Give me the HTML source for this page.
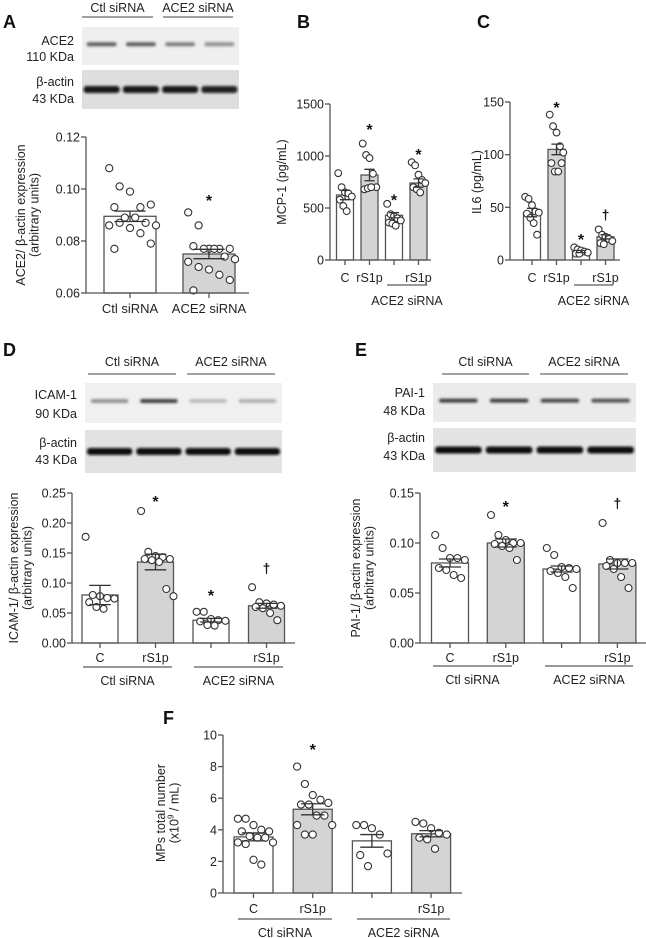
<!DOCTYPE html>
<html><head><meta charset="utf-8"><style>
html,body{margin:0;padding:0;background:#fff;width:646px;height:938px;overflow:hidden}
svg{display:block;font-family:"Liberation Sans",Arial,sans-serif}
</style></head><body>
<svg id="fig" width="646" height="938" viewBox="0 0 646 938" xmlns="http://www.w3.org/2000/svg">
<defs><filter id="bl" x="-20%" y="-100%" width="140%" height="300%"><feGaussianBlur stdDeviation="1.2"/></filter></defs>
<g font-weight="bold" font-size="18" fill="#111">
<text x="3" y="28">A</text>
<text x="297" y="28">B</text>
<text x="477" y="28">C</text>
<text x="3" y="356">D</text>
<text x="355" y="356">E</text>
<text x="163" y="724">F</text>
</g>
<g id="blots"></g>
<g id="charts"></g>
</svg>
<script>
// ---- Data ----
const catsA=["Ctl siRNA","ACE2 siRNA"];
const meansA=[0.0895,0.075];
const semA=[0.002,0.0018];
const ptsA=[[0.108,0.101,0.099,0.093,0.094,0.093,0.089,0.089,0.087,0.086,0.086,0.087,0.085,0.083,0.079,0.077],
[0.091,0.086,0.077,0.077,0.077,0.078,0.077,0.077,0.074,0.073,0.072,0.070,0.069,0.067,0.065,0.061]];
const marksA=["","*"];const markValA=[0,0.097];
const ticksA=[0.06,0.08,0.10,0.12];const tickLabA=["0.06","0.08","0.10","0.12"];

const catsB=["C","rS1p","","rS1p"];
const meansB=[625,817,430,740];
const semB=[45,55,25,40];
const ptsB=[[835,700,650,640,610,580,520,470],[1120,1010,980,830,700,680,690,700],[540,440,420,400,380,360,350,330],[940,910,820,770,740,700,680,650]];
const marksB=["","*","*","*"];const markValB=[0,1290,610,1050];
const ticksB=[0,500,1000,1500];const tickLabB=["0","500","1000","1500"];

const catsC=["C","rS1p","","rS1p"];
const meansC=[45,105,8,22];
const semC=[4,5,1,2];
const ptsC=[[60,58,52,46,45,44,40,35,24],[138,127,121,108,102,92,84,84,92],[12,10,9,8,7,6,6],[29,24,22,20,18,16,15]];
const marksC=["","*","*","†"];const markValC=[0,148,23,43];
const ticksC=[0,50,100,150];const tickLabC=["0","50","100","150"];

const catsD=["C","rS1p","","rS1p"];
const meansD=[0.08,0.135,0.038,0.062];
const semD=[0.016,0.013,0.003,0.004];
const ptsD=[[0.177,0.080,0.078,0.075,0.074,0.068,0.060,0.057],[0.22,0.152,0.145,0.143,0.14,0.14,0.138,0.135,0.09,0.078],[0.052,0.052,0.04,0.038,0.037,0.036,0.03,0.029],[0.093,0.068,0.066,0.064,0.062,0.06,0.058,0.05,0.038]];
const marksD=["","*","*","†"];const markValD=[0,0.242,0.085,0.125];
const ticksD=[0,0.05,0.10,0.15,0.20,0.25];const tickLabD=["0.00","0.05","0.10","0.15","0.20","0.25"];

const catsE=["C","rS1p","","rS1p"];
const meansE=[0.08,0.1,0.074,0.079];
const semE=[0.004,0.004,0.003,0.005];
const ptsE=[[0.108,0.095,0.085,0.085,0.083,0.075,0.073,0.068,0.065],[0.128,0.108,0.103,0.1,0.1,0.099,0.097,0.095,0.083],[0.095,0.088,0.076,0.075,0.074,0.072,0.07,0.066,0.055],[0.12,0.083,0.08,0.08,0.08,0.077,0.074,0.066,0.055]];
const marksE=["","*","","†"];const markValE=[0,0.14,0,0.14];
const ticksE=[0,0.05,0.10,0.15];const tickLabE=["0.00","0.05","0.10","0.15"];

const catsF=["C","rS1p","","rS1p"];
const meansF=[3.55,5.3,3.3,3.75];
const semF=[0.25,0.35,0.4,0.2];
const ptsF=[[4.7,4.7,4.3,4.0,3.9,3.9,3.6,3.5,3.5,3.2,3.2,3.1,2.1,1.8],[8.0,6.9,6.2,5.9,5.7,5.6,5.6,4.9,4.9,4.3,4.3,3.7,3.7],[4.3,4.3,4.1,3.7,2.5,2.4,1.7],[4.5,4.4,4.1,3.8,3.7,3.5,3.4,2.8]];
const marksF=["","*","",""];const markValF=[0,9.3,0,0];
const ticksF=[0,2,4,6,8,10];const tickLabF=["0","2","4","6","8","10"];

const NS="http://www.w3.org/2000/svg";
function el(tag,attrs,parent,txt){const e=document.createElementNS(NS,tag);for(const k in attrs)e.setAttribute(k,attrs[k]);if(txt!==undefined)e.textContent=txt;parent.appendChild(e);return e;}
const charts=document.getElementById('charts');
const blots=document.getElementById('blots');
const AX="#555";

function chart(name,cfg,cats,means,sems,pts,marks,markVals,ticks,tickLabs){
  const g=el('g',{},charts);
  
  
  const y=v=>cfg.y0+(v-cfg.vmin)/(cfg.vmax-cfg.vmin)*(cfg.y1-cfg.y0);
  const x=i=>cfg.c0+i*cfg.step;
  const fills=cfg.fills;
  means.forEach((m,i)=>{
    const r=el('rect',{x:x(i)-cfg.w/2,y:y(m),width:cfg.w,height:y(cfg.vmin)-y(m),fill:fills[i],stroke:AX,'stroke-width':1.3},g);
    
    
  });
  pts.forEach((arr,i)=>{
    arr.forEach((v,j)=>{
      const off=((j%5)-2)/2*(cfg.w*0.4)+((Math.floor(j/5)%2)?cfg.w*0.1:0);
      const c=el('circle',{cx:x(i)+off,cy:y(v),r:cfg.r,fill:'#fff',stroke:'#333','stroke-width':1.1},g);
      
      
    });
  });
  means.forEach((m,i)=>{
    const eh=cfg.w*0.3;
    el('path',{d:`M${x(i)} ${y(m-sems[i])}V${y(m+sems[i])}M${x(i)-eh} ${y(m+sems[i])}H${x(i)+eh}M${x(i)-eh} ${y(m-sems[i])}H${x(i)+eh}`,stroke:'#333','stroke-width':1.3,fill:'none'},g);
  });
  marks.forEach((s,i)=>{ if(!s)return;
    const t=el('text',{x:x(i),y:y(markVals[i])+(s=='*'?9:5),'text-anchor':'middle','font-size':s=='*'?16:14,'font-weight':'bold',fill:'#111'},g,s);
    
    
  });
  el('path',{d:`M${cfg.ax} ${y(cfg.vmax)}V${y(cfg.vmin)}H${cfg.xEnd}`,stroke:AX,'stroke-width':1.3,fill:'none'},g);
  ticks.forEach((t,i)=>{
    el('path',{d:`M${cfg.ax-5} ${y(t)}H${cfg.ax}`,stroke:AX,'stroke-width':1.3},g);
    const tl=el('text',{x:cfg.ax-6,y:y(t)+4.5,'text-anchor':'end','font-size':12.5,fill:'#222'},g,tickLabs[i]);
    
    
  });
  cats.forEach((c,i)=>{
    el('path',{d:`M${x(i)} ${y(cfg.vmin)}V${y(cfg.vmin)+5}`,stroke:AX,'stroke-width':1.3},g);
    if(c){const t=el('text',{x:x(i),y:y(cfg.vmin)+cfg.labDy,'text-anchor':'middle','font-size':cfg.labFs,fill:'#222'},g,c);
    
    }
  });
  const tg=el('text',{transform:`translate(${cfg.tx},${cfg.ty}) rotate(-90)`,'text-anchor':'middle','font-size':12.5,fill:'#222'},g);
  
  
  cfg.title.forEach((ln,k)=>{const ts=el('tspan',{x:0,dy:k?13.5:0},tg);ts.innerHTML=ln;});
  return {x,y};
}
function groupLabel(x1,x2,yl,yt,txt){
  el('path',{d:`M${x1} ${yl}H${x2}`,stroke:'#333','stroke-width':1},charts);
  const t=el('text',{x:(x1+x2)/2,y:yt,'text-anchor':'middle','font-size':12.5,fill:'#222'},charts,txt);
  
  
}
const W='#fff',G='#d4d4d4';
chart('chart-a-ace2',{ax:86,y0:293,y1:137,vmin:0.06,vmax:0.12,c0:130,step:79,w:52,r:3.6,xEnd:249,fills:[W,G],labDy:20,labFs:13,tx:25,ty:215,title:["ACE2/ β-actin expression","(arbitrary units)"]},catsA,meansA,semA,ptsA,marksA,markValA,ticksA,tickLabA);
chart('chart-b-mcp1',{ax:330,y0:260,y1:104,vmin:0,vmax:1500,c0:345,step:24.5,w:17,r:3.4,xEnd:431,fills:[W,G,W,G],labDy:22,labFs:12.5,tx:286,ty:182,title:["MCP-1 (pg/mL)"]},catsB,meansB,semB,ptsB,marksB,markValB,ticksB,tickLabB);
groupLabel(387,427,285,305,"ACE2 siRNA");
chart('chart-c-il6',{ax:510,y0:260,y1:102,vmin:0,vmax:150,c0:532,step:24.5,w:17,r:3.4,xEnd:620,fills:[W,G,W,G],labDy:22,labFs:12.5,tx:481,ty:182,title:["IL6 (pg/mL)"]},catsC,meansC,semC,ptsC,marksC,markValC,ticksC,tickLabC);
groupLabel(574,613,285,305,"ACE2 siRNA");
chart('chart-d-icam1',{ax:72,y0:643,y1:493,vmin:0,vmax:0.25,c0:100,step:55.5,w:36,r:3.5,xEnd:295,fills:[W,G,W,G],labDy:19,labFs:12.5,tx:18,ty:568,title:["ICAM-1/ β-actin expression","(arbitrary units)"]},catsD,meansD,semD,ptsD,marksD,markValD,ticksD,tickLabD);
groupLabel(83,172,667,685,"Ctl siRNA");groupLabel(194,283,667,685,"ACE2 siRNA");
chart('chart-e-pai1',{ax:420,y0:643,y1:493,vmin:0,vmax:0.15,c0:450,step:55.8,w:37,r:3.5,xEnd:646,fills:[W,G,W,G],labDy:19,labFs:12.5,tx:360,ty:568,title:["PAI-1/ β-actin expression","(arbitrary units)"]},catsE,meansE,semE,ptsE,marksE,markValE,ticksE,tickLabE);
groupLabel(433,512,666,684,"Ctl siRNA");groupLabel(545,633,666,684,"ACE2 siRNA");
chart('chart-f-mps',{ax:223,y0:893,y1:735,vmin:0,vmax:10,c0:253.5,step:59.2,w:39,r:3.6,xEnd:462,fills:[W,G,W,G],labDy:20,labFs:12.5,tx:165,ty:813,title:["MPs total number","(x10<tspan font-size='8' dy='-5'>9</tspan><tspan dy='5'> / mL)</tspan>"]},catsF,meansF,semF,ptsF,marksF,markValF,ticksF,tickLabF);
groupLabel(238,332,919,937,"Ctl siRNA");groupLabel(357,450,919,937,"ACE2 siRNA");

function blot(name,x1,x2,top1,bot1,top2,bot2,hdrY,lineY,lines,labels,bands1,bands2,bg1,bg2){
  const g=el('g',{},blots);
  
  
  lines.forEach(l=>{el('path',{d:`M${l[0]} ${lineY}H${l[1]}`,stroke:'#444','stroke-width':1},g);
    el('text',{x:(l[0]+l[1])/2,y:hdrY,'text-anchor':'middle','font-size':12.5,fill:'#222'},g,l[2]);});
  el('rect',{x:x1,y:top1,width:x2-x1,height:bot1-top1,fill:bg1},g);
  el('rect',{x:x1,y:top2,width:x2-x1,height:bot2-top2,fill:bg2},g);
  const lw=(x2-x1)/4;
  bands1.forEach((op,i)=>{el('rect',{x:x1+lw*i+lw*0.12,y:top1+(bot1-top1)*0.4,width:lw*0.76,height:4,rx:2,fill:'#222',opacity:op,filter:'url(#bl)'},g);});
  bands2.forEach((op,i)=>{el('rect',{x:x1+lw*i+lw*0.04,y:(top2+bot2)/2-3.5,width:lw*0.92,height:7,rx:3,fill:'#111',opacity:op,filter:'url(#bl)'},g);});
  labels.forEach(l=>{el('text',{x:x1-8,y:l[1],'text-anchor':'end','font-size':12.5,fill:'#222'},g,l[0]);});
}
blot('blot-a',82,239,27,65,70,109,12,17,[[82,153,"Ctl siRNA"],[163,233,"ACE2 siRNA"]],[["ACE2",45],["110 KDa",61],["β-actin",86],["43 KDa",103]],[0.7,0.7,0.55,0.45],[0.95,0.95,0.95,0.9],'#efefef','#dedede');
blot('blot-d',85,282,383,423,430,473,366,374,[[88,176,"Ctl siRNA"],[187,275,"ACE2 siRNA"]],[["ICAM-1",399],["90 KDa",418],["β-actin",447],["43 KDa",464]],[0.45,0.85,0.25,0.3],[1,1,1,1],'#f0f0f0','#e2e2e2');
blot('blot-e',433,636,383,422,428,472,366,374,[[442,529,"Ctl siRNA"],[540,628,"ACE2 siRNA"]],[["PAI-1",397],["48 KDa",415],["β-actin",442],["43 KDa",460]],[0.85,0.85,0.8,0.75],[1,1,1,1],'#ebebeb','#e4e4e4');
</script>
</body></html>
